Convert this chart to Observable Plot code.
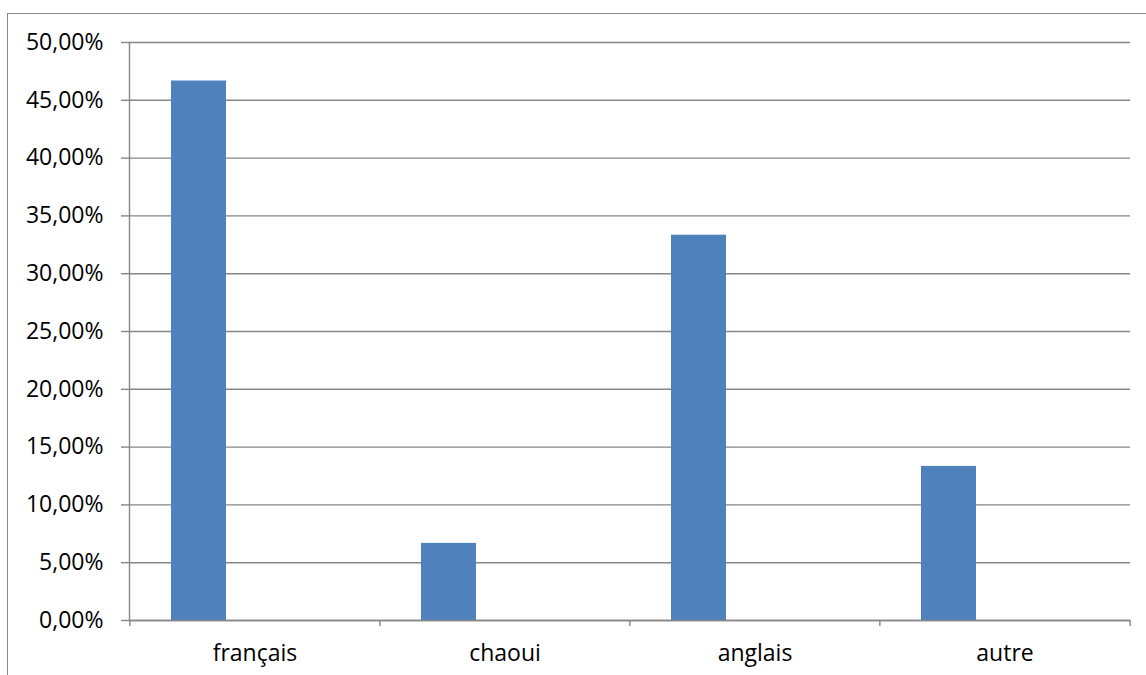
<!DOCTYPE html>
<html>
<head>
<meta charset="utf-8">
<script src="https://cdn.jsdelivr.net/npm/d3@7"></script>
<script src="https://cdn.jsdelivr.net/npm/@observablehq/plot@0.6"></script>
<style>
  html, body { margin: 0; padding: 0; background: #fff; overflow: hidden; }
  #wrap { position: relative; width: 1146px; height: 675px; overflow: hidden; }
  #border { position: absolute; left: 7px; top: 13px; width: 1200px; height: 700px;
            border: 1.5px solid #868686; box-sizing: border-box; pointer-events: none; }
  #chart { position: absolute; left: 0; top: 0; }
</style>
</head>
<body>
<div id="wrap">
  <div id="border"></div>
  <div id="chart"></div>
</div>
<script>
// Langues : part des réponses
const categories = ["français", "chaoui", "anglais", "autre"];
const shares = [0.4667, 0.0667, 0.3333, 0.1333];
const yTicks = [0, 0.05, 0.10, 0.15, 0.20, 0.25, 0.30, 0.35, 0.40, 0.45, 0.50];

const data = categories.map((c, i) => ({ langue: c, part: shares[i] }));

const W = 1146, H = 675;
const mL = 129, mR = 16, mT = 42, mB = 55;
const step = (W - mL - mR) / categories.length;
const gray = "#868686";
const font = "'Open Sans', sans-serif";

const fmt = d => (d * 100).toFixed(2).replace(".", ",") + "%";

const chart = Plot.plot({
  width: W,
  height: H,
  marginLeft: mL,
  marginRight: mR,
  marginTop: mT,
  marginBottom: mB,
  style: { fontFamily: font, fontSize: "23px", color: "#000", background: "transparent" },
  x: { domain: categories, paddingInner: 0.78, paddingOuter: 0.39, label: null },
  y: { domain: [0, 0.5], label: null },
  marks: [
    Plot.gridY(yTicks, { stroke: gray, strokeOpacity: 1, strokeWidth: 1.4 }),
    Plot.axisY(yTicks, {
      tickFormat: fmt, tickSize: 8, tickPadding: 18, stroke: gray,
      strokeWidth: 1.4, fill: "#000", fontSize: 23, label: null
    }),
    Plot.barY(data, { x: "langue", y: "part", fill: "#4F81BD", dx: -56 }),
    // axe horizontal et vertical
    Plot.ruleY([0], { stroke: gray, strokeWidth: 1.4 }),
    Plot.frame({ anchor: "left", stroke: gray, strokeWidth: 1.4 }),
    // graduations entre les catégories
    Plot.ruleX(categories, { x: d => d, y1: 0, y2: 0, insetBottom: -6, dx: -step / 2, stroke: gray, strokeWidth: 1.4 }),
    Plot.ruleX(categories.slice(-1), { x: d => d, y1: 0, y2: 0, insetBottom: -6, dx: step / 2, stroke: gray, strokeWidth: 1.4 }),
    Plot.axisX({ tickSize: 0, tickPadding: 24, fill: "#000", fontSize: 23, label: null })
  ]
});

document.getElementById("chart").appendChild(chart);
</script>
</body>
</html>
